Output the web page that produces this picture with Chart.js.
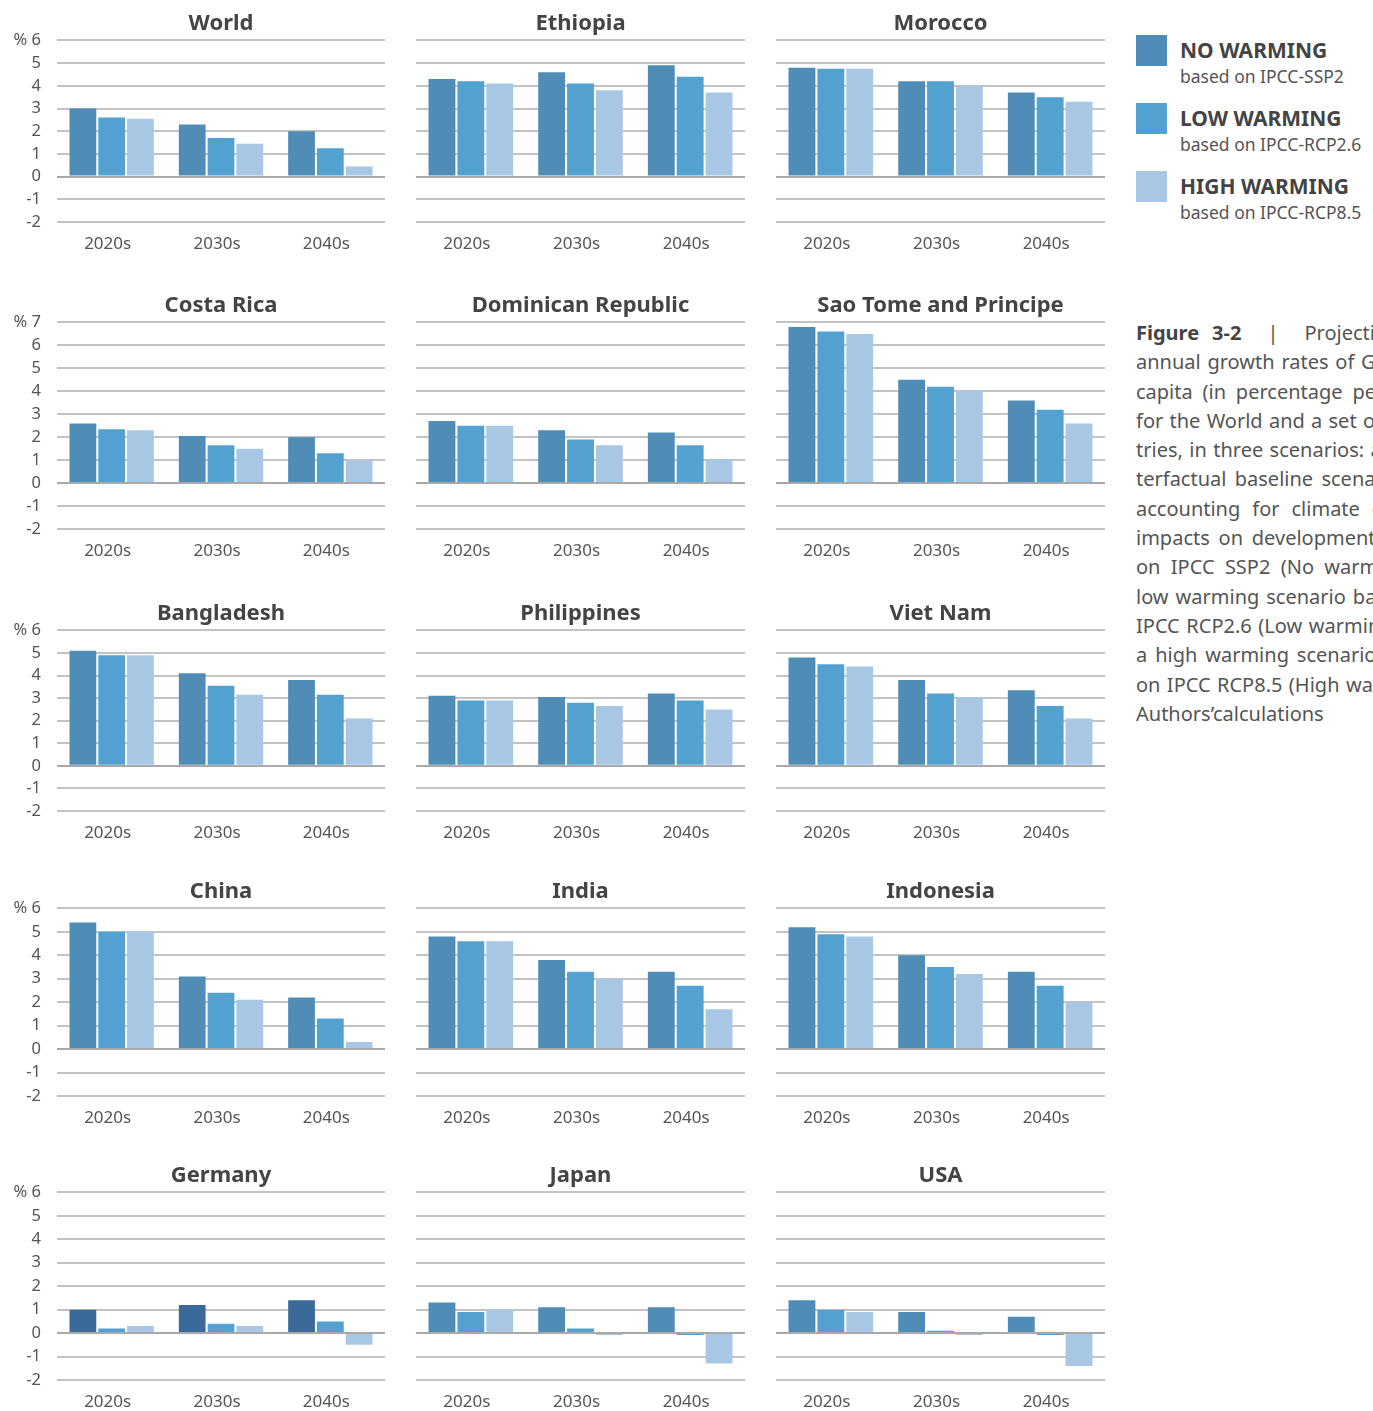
<!DOCTYPE html>
<html>
<head>
<meta charset="utf-8">
<script src="https://cdn.jsdelivr.net/npm/chart.js@4.4.1/dist/chart.umd.min.js"></script>
<style>
  body { margin: 0; background: #fff; width: 1373px; height: 1411px; overflow: hidden; position: relative; font-family: "Noto Sans", sans-serif; }
  canvas { position: absolute; }
  .legend { position: absolute; left: 1136px; top: 34px; }
  .item { position: relative; height: 68px; }
  .swatch { position: absolute; left: 0; top: 1px; width: 31px; height: 31px; }
  .name { position: absolute; left: 44px; top: 0; font-size: 21px; font-weight: bold; color: #444; line-height: 32px; white-space: nowrap; }
  .note { position: absolute; left: 44px; top: 30px; font-size: 17.5px; color: #555; white-space: nowrap; }
  .caption { position: absolute; left: 1136px; top: 318px; width: 305px; font-size: 20px; line-height: 29.3px; color: #555; }
  .caption div { white-space: nowrap; text-align: justify; text-align-last: justify; }
  .caption div.last { text-align-last: left; }
  .caption b { color: #444; }
</style>
</head>
<body>
<div class="legend" id="legend"></div>
<div class="caption">
  <div><b>Figure 3-2</b> &nbsp;|&nbsp; Projections of</div>
  <div>annual growth rates of GDP per</div>
  <div>capita (in percentage per year)</div>
  <div>for the World and a set of coun-</div>
  <div>tries, in three scenarios: a coun-</div>
  <div>terfactual baseline scenario not</div>
  <div>accounting for climate change</div>
  <div>impacts on development based</div>
  <div>on IPCC SSP2 (No warming), a</div>
  <div>low warming scenario based on</div>
  <div>IPCC RCP2.6 (Low warming) and</div>
  <div>a high warming scenario based</div>
  <div>on IPCC RCP8.5 (High warming).</div>
  <div class="last">Authors’calculations</div>
</div>
<script>
const categories = ['2020s', '2030s', '2040s'];
const seriesNames = ['NO WARMING', 'LOW WARMING', 'HIGH WARMING'];
const seriesNotes = ['based on IPCC-SSP2', 'based on IPCC-RCP2.6', 'based on IPCC-RCP8.5'];
const countries = ['World', 'Ethiopia', 'Morocco', 'Costa Rica', 'Dominican Republic', 'Sao Tome and Principe',
  'Bangladesh', 'Philippines', 'Viet Nam', 'China', 'India', 'Indonesia', 'Germany', 'Japan', 'USA'];

const noWarming = [
  [3.0, 2.3, 2.0], [4.3, 4.6, 4.9], [4.8, 4.2, 3.7],
  [2.6, 2.05, 2.0], [2.7, 2.3, 2.2], [6.8, 4.5, 3.6],
  [5.1, 4.1, 3.8], [3.1, 3.05, 3.2], [4.8, 3.8, 3.35],
  [5.4, 3.1, 2.2], [4.8, 3.8, 3.3], [5.2, 4.0, 3.3],
  [1.0, 1.2, 1.4], [1.3, 1.1, 1.1], [1.4, 0.9, 0.7]
];
const lowWarming = [
  [2.6, 1.7, 1.25], [4.2, 4.1, 4.4], [4.75, 4.2, 3.5],
  [2.35, 1.65, 1.3], [2.5, 1.9, 1.65], [6.6, 4.2, 3.2],
  [4.9, 3.55, 3.15], [2.9, 2.8, 2.9], [4.5, 3.2, 2.65],
  [5.0, 2.4, 1.3], [4.6, 3.3, 2.7], [4.9, 3.5, 2.7],
  [0.2, 0.4, 0.5], [0.9, 0.2, -0.08], [1.0, 0.1, -0.08]
];
const highWarming = [
  [2.55, 1.45, 0.45], [4.1, 3.8, 3.7], [4.75, 4.0, 3.3],
  [2.3, 1.5, 1.0], [2.5, 1.65, 1.05], [6.5, 4.0, 2.6],
  [4.9, 3.15, 2.1], [2.9, 2.65, 2.5], [4.4, 3.05, 2.1],
  [5.0, 2.1, 0.3], [4.6, 3.0, 1.7], [4.8, 3.2, 2.0],
  [0.3, 0.3, -0.5], [1.0, -0.08, -1.3], [0.9, -0.08, -1.4]
];
const yMaxByRow = [6, 7, 6, 6, 6];
const yMin = -2;

const colors = ['#4f8db7', '#52a1d1', '#a8c7e4'];
const germanyDark = '#3b6a9a';

// layout of the grid (plot areas)
const rowTop = [40, 322, 630, 908, 1192];
const rowBottom = [222, 529, 811, 1096, 1380];
const colLeft = [57, 416, 776];
const colRight = [385, 745, 1105];
const titleSpace = 38, axisSpace = 36;

// legend
const legend = document.getElementById('legend');
seriesNames.forEach((n, i) => {
  const d = document.createElement('div');
  d.className = 'item';
  d.innerHTML = `<div class="swatch" style="background:${colors[i]}"></div>` +
    `<div class="name">${n}</div><div class="note">${seriesNotes[i]}</div>`;
  legend.appendChild(d);
});

countries.forEach((name, idx) => {
  const row = Math.floor(idx / 3), col = idx % 3;
  const left = col === 0 ? 0 : colLeft[col];
  const w = colRight[col] - left;
  const h = rowBottom[row] - rowTop[row] + titleSpace + axisSpace;
  const cv = document.createElement('canvas');
  cv.width = w; cv.height = h;
  cv.style.left = left + 'px';
  cv.style.top = (rowTop[row] - titleSpace) + 'px';
  document.body.appendChild(cv);

  const yMax = yMaxByRow[row];
  const vals = [noWarming[idx], lowWarming[idx], highWarming[idx]];
  new Chart(cv, {
    type: 'bar',
    data: {
      labels: categories,
      datasets: vals.map((v, i) => ({
        label: seriesNames[i],
        data: v,
        backgroundColor: (i === 0 && name === 'Germany') ? germanyDark : colors[i],
        borderWidth: 0,
        categoryPercentage: 0.79,
        barPercentage: 0.93
      }))
    },
    options: {
      responsive: false,
      animation: false,
      layout: { padding: 0 },
      plugins: {
        legend: { display: false },
        tooltip: { enabled: false },
        title: {
          display: true,
          text: name,
          fullSize: false,
          color: '#444',
          font: { family: 'Noto Sans', size: 22, weight: 'bold', lineHeight: 1.2 },
          padding: { top: 9, bottom: 3 }
        }
      },
      scales: {
        x: {
          grid: { display: false, drawTicks: false },
          border: { display: false },
          ticks: { color: '#555', padding: 12, labelOffset: -4, font: { family: 'Noto Sans', size: 17 } },
          afterFit: s => { s.height = axisSpace; }
        },
        y: {
          min: yMin,
          max: yMax,
          border: { display: false },
          grid: {
            drawTicks: false,
            lineWidth: 2,
            color: c => c.tick && c.tick.value === 0 ? '#a9a9a9' : '#c3c3c3'
          },
          ticks: {
            display: col === 0,
            autoSkip: false,
            stepSize: 1,
            padding: 16,
            color: '#555',
            font: { family: 'Noto Sans', size: 16.5 },
            callback: v => v === yMax ? '% ' + v : v
          },
          afterFit: s => { s.width = col === 0 ? colLeft[0] : 0; }
        }
      }
    }
  });
});
</script>
</body>
</html>
